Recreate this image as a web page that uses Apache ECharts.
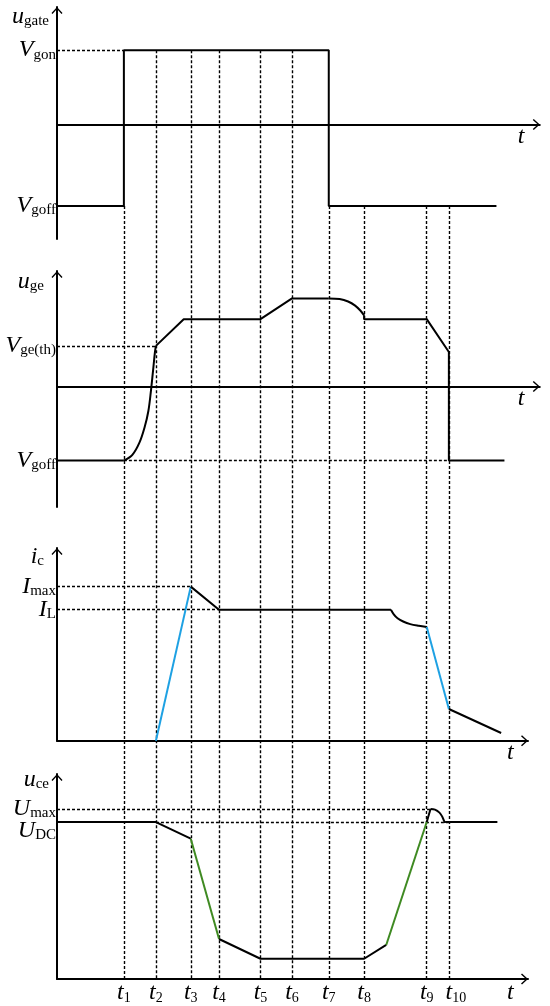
<!DOCTYPE html>
<html>
<head>
<meta charset="utf-8">
<script src="https://cdn.jsdelivr.net/npm/echarts@6/dist/echarts.min.js"></script>
<style>
html, body { margin: 0; padding: 0; background: #fff; }
#chart { width: 550px; height: 1006px; }
</style>
</head>
<body>
<div id="chart"></div>
<script>
// switching instants t1..t10 (time units, 0 = vertical axis)
const tNames = ['1', '2', '3', '4', '5', '6', '7', '8', '9', '10'];
const tValues = [14.2, 21.0, 28.4, 34.4, 43.2, 49.9, 57.7, 65.2, 78.5, 83.2];

// u_gate panel (Vgon = 1)
const gateTicks = [1, -1.095];
const gateTickNames = ['{m|V}{s|gon}', '{m|V}{s|goff}'];
const gateLine = [[0, -1.095], [14.2, -1.095], [14.2, 1], [57.7, 1], [57.7, -1.095], [93.3, -1.095]];
// where each t-marker starts in the u_gate panel
const markerStart = [-1.095, 1, 1, 1, 1, 1, -1.095, -1.095, -1.095, -1.095];

// u_ge panel (Vge(th) = 1)
const geTicks = [1, -1.82];
const geTickNames = ['{m|V}{s|ge(th)}', '{m|V}{s|goff}'];
const geStart = [[0, -1.82], [14.2, -1.82]];
const geRise = [[14.2, -1.82], [16.0, -1.68], [17.5, -1.38], [18.6, -1.0], [19.4, -0.6], [19.95, -0.1], [20.4, 0.4], [20.8, 0.85], [21.0, 1.0]];
const geMid = [[21.0, 1.0], [26.9, 1.656], [43.2, 1.656], [49.9, 2.167], [57.7, 2.167]];
const geBend = [[57.7, 2.167], [60.0, 2.15], [61.8, 2.09], [63.3, 1.99], [64.4, 1.87], [65.2, 1.75]];
const geTail = [[65.2, 1.75], [65.2, 1.656], [78.5, 1.656], [83.2, 0.85], [83.2, -1.82], [95.0, -1.82]];

// i_c panel (IL = 1)
const icTicks = [1.176, 1];
const icTickNames = ['{m|I}{s|max}', '{m|I}{s|L}'];
const icRise = [[21.0, 0], [28.4, 1.176]];
const icMid = [[28.4, 1.176], [34.4, 1.0], [70.9, 1.0]];
const icBend = [[70.9, 1.0], [71.5, 0.965], [72.3, 0.935], [73.5, 0.91], [75.0, 0.89], [76.8, 0.877], [78.5, 0.868]];
const icFall = [[78.5, 0.868], [83.2, 0.242]];
const icTail = [[83.2, 0.242], [94.3, 0.059]];

// u_ce panel (UDC = 1)
const ceTicks = [1.083, 1];
const ceTickNames = ['{m|U}{s|max}', '{md|U}{sd|DC}'];
const ceHigh = [[0, 1], [21.0, 1], [28.4, 0.894]];
const ceDrop = [[28.4, 0.894], [34.4, 0.255]];
const ceLow = [[34.4, 0.255], [43.2, 0.129], [65.2, 0.129], [69.9, 0.217]];
const ceRise = [[69.9, 0.217], [78.5, 1.0]];
const cePeak = [[78.5, 1.0], [79.3, 1.083]];
const ceArc = [[79.3, 1.083], [80.25, 1.079], [81.2, 1.06], [81.8, 1.034], [82.2, 1.006], [82.4, 0.995]];
const ceEnd = [[82.4, 1.0], [93.5, 1.0]];

const SERIF = '"Liberation Serif", "Times New Roman", serif';
const BLUE = '#1ea1e3';
const GREEN = '#3f8a22';
const X_PX = 4.71;
const arrow = 'path://M0,0 L5.5,6 L4.5,7 L0,2 L-4.5,7 L-5.5,6 Z';

const rich = {
    m: { fontFamily: SERIF, fontStyle: 'italic', fontSize: 24, color: '#000', verticalAlign: 'bottom' },
    s: { fontFamily: SERIF, fontSize: 15, color: '#000', verticalAlign: 'bottom' },
    md: { fontFamily: SERIF, fontStyle: 'italic', fontSize: 24, color: '#000', verticalAlign: 'bottom', padding: [18, 0, 0, 0] },
    sd: { fontFamily: SERIF, fontSize: 15, color: '#000', verticalAlign: 'bottom' },
    t: { fontFamily: SERIF, fontStyle: 'italic', fontSize: 24, color: '#000', verticalAlign: 'bottom' },
    tw: { fontFamily: SERIF, fontStyle: 'italic', fontSize: 24, color: '#000', verticalAlign: 'bottom', padding: [0, 0, 0, 14] },
    n: { fontFamily: SERIF, fontSize: 14, color: '#000', verticalAlign: 'bottom' }
};

const panels = [
    { top: 7, height: 232, xMax: 102.5, min: -1.54, max: 1.58, name: '{m|u}{s|gate}', gap: -10, pad: 8, ticks: gateTicks, labels: gateTickNames },
    { top: 271, height: 236, xMax: 102.5, min: -2.96, max: 2.84, name: '{m|u}{s|ge}', gap: -11, pad: 13, ticks: geTicks, labels: geTickNames },
    { top: 548, height: 192.7, xMax: 100, min: 0, max: 1.471, name: '{m|i}{s|c}', gap: -9, pad: 13, ticks: icTicks, labels: icTickNames },
    { top: 774, height: 205, xMax: 100, min: 0, max: 1.306, name: '{m|u}{s|ce}', gap: -6, pad: 8, ticks: ceTicks, labels: ceTickNames }
];

// overlay grid for the t-markers, same scale as the u_gate panel
const ovTop = 7, ovBottom = 979;
const ovMin = panels[0].max - (ovBottom - ovTop) / (panels[0].height / (panels[0].max - panels[0].min));

function nearest(arr, v) {
    let best = 0;
    arr.forEach((a, i) => { if (Math.abs(a - v) < Math.abs(arr[best] - v)) best = i; });
    return best;
}

const grid = panels.map(p => ({ left: 57, top: p.top, width: p.xMax * X_PX, height: p.height, outerBoundsMode: 'none' }));
grid.push({ left: 57, top: ovTop, width: 100 * X_PX, height: ovBottom - ovTop, outerBoundsMode: 'none' });

const xAxis = panels.map((p, i) => ({
    type: 'value', gridIndex: i, min: 0, max: p.xMax,
    name: 't', nameLocation: 'end', nameGap: i < 2 ? -22 : -21, nameMoveOverlap: false,
    nameTextStyle: { fontFamily: SERIF, fontStyle: 'italic', fontSize: 24, color: '#000', align: 'left', verticalAlign: 'top', padding: [i === 3 ? 2 : 0, 0, 0, 0] },
    axisLine: { onZero: true, symbol: ['none', arrow], symbolSize: [11, 7], symbolOffset: [0, -3.5], lineStyle: { color: '#000', width: 2 } },
    axisTick: { show: false },
    splitLine: { show: false },
    axisLabel: i === 3 ? {
        customValues: tValues, margin: 2, rich, hideOverlap: false, showMinLabel: true, showMaxLabel: true,
        formatter: v => { const k = nearest(tValues, v); return (k === 9 ? '{tw|t}' : '{t|t}') + '{n|' + tNames[k] + '}'; }
    } : { show: false }
}));
xAxis.push({ type: 'value', gridIndex: 4, min: 0, max: 100, show: false });

// main y axes carry the first level label; a second, line-less axis per panel carries the other one
const yAxis = panels.map((p, i) => ({
    type: 'value', gridIndex: i, min: p.min, max: p.max,
    name: p.name, nameLocation: 'end', nameGap: p.gap, nameMoveOverlap: false,
    nameTextStyle: { align: 'right', verticalAlign: 'middle', padding: [0, p.pad, 0, 0], rich },
    axisLine: { show: true, symbol: ['none', arrow], symbolSize: [11, 7], symbolOffset: [0, -3.5], lineStyle: { color: '#000', width: 2 } },
    axisTick: { show: false },
    splitLine: { show: false },
    axisLabel: {
        customValues: [p.ticks[0]], margin: 1, rich, showMinLabel: true, showMaxLabel: true,
        formatter: () => p.labels[0]
    }
}));
yAxis.push({ type: 'value', gridIndex: 4, min: ovMin, max: panels[0].max, show: false });
panels.forEach((p, i) => {
    yAxis.push({
        type: 'value', gridIndex: i, min: p.min, max: p.max, position: 'left',
        axisLine: { show: false }, axisTick: { show: false }, splitLine: { show: false },
        axisLabel: {
            customValues: [p.ticks[1]], margin: 1, rich, showMinLabel: true, showMaxLabel: true,
            formatter: () => p.labels[1]
        }
    });
});

function trace(g, data, color, smooth) {
    return {
        type: 'line', xAxisIndex: g, yAxisIndex: g, data, symbol: 'none',
        smooth: smooth || false,
        lineStyle: { color, width: 2 }, z: 3, silent: true, clip: false
    };
}
function guides(g, segs) {
    return {
        type: 'lines', coordinateSystem: 'cartesian2d', xAxisIndex: g, yAxisIndex: g,
        data: segs.map(c => ({ coords: c })),
        lineStyle: { color: '#000', width: 1.4, type: [3, 2], opacity: 1, curveness: 0 }, z: 1, silent: true
    };
}

const series = [
    guides(4, tValues.map((t, i) => [[t, markerStart[i]], [t, ovMin]])),
    guides(0, [[[0, 1], [14.2, 1]]]),
    guides(1, [[[0, 1], [21.0, 1]], [[14.2, -1.82], [83.2, -1.82]]]),
    guides(2, [[[0, 1.176], [28.4, 1.176]], [[0, 1], [34.4, 1]]]),
    guides(3, [[[0, 1.083], [79.3, 1.083]], [[21.0, 1], [83.2, 1]]]),
    trace(0, gateLine, '#000'),
    trace(1, geStart, '#000'),
    trace(1, geRise, '#000', 0.35),
    trace(1, geMid, '#000'),
    trace(1, geBend, '#000', 0.35),
    trace(1, geTail, '#000'),
    trace(2, icRise, BLUE),
    trace(2, icMid, '#000'),
    trace(2, icBend, '#000', 0.35),
    trace(2, icFall, BLUE),
    trace(2, icTail, '#000'),
    trace(3, ceHigh, '#000'),
    trace(3, ceDrop, GREEN),
    trace(3, ceLow, '#000'),
    trace(3, ceRise, GREEN),
    trace(3, cePeak, '#000'),
    trace(3, ceArc, '#000', 0.35),
    trace(3, ceEnd, '#000')
];

const chart = echarts.init(document.getElementById('chart'));
chart.setOption({
    animation: false,
    backgroundColor: '#fff',
    grid, xAxis, yAxis, series
});
</script>
</body>
</html>
